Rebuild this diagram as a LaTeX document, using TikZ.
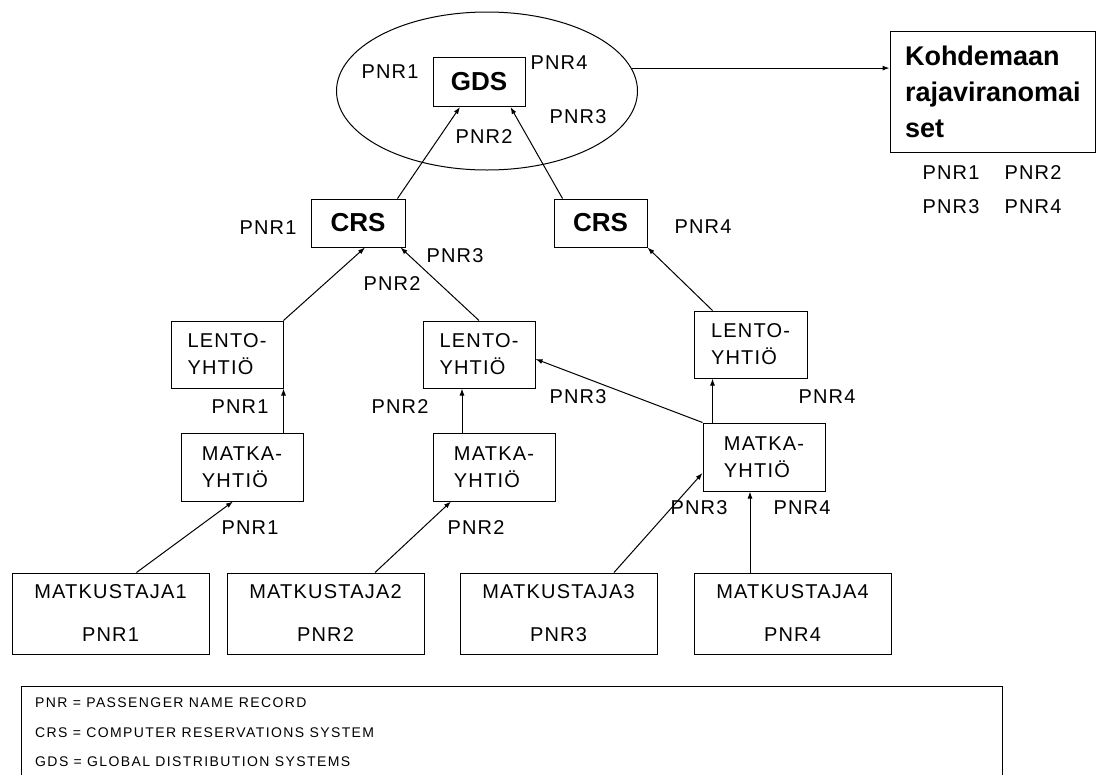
\documentclass[tikz,border=0pt]{standalone}
\usepackage{fontspec}
\setmainfont{Liberation Sans}
\newfontfamily\spacedfont[LetterSpace=6]{Liberation Sans}
\newfontfamily\legendfont[LetterSpace=10]{Liberation Sans}
\usetikzlibrary{shapes.geometric,arrows.meta}

\begin{document}
\begin{tikzpicture}[x=1pt, y=-1pt,
    box/.style={draw, line width=1pt, inner sep=0pt, align=left, font=\spacedfont\fontsize{20}{27}\selectfont},
    boldbox/.style={draw, line width=1pt, inner sep=0pt, font=\bfseries\fontsize{26}{30}\selectfont},
    trav/.style={draw, line width=1pt, minimum width=197pt, minimum height=81pt, align=center, font=\spacedfont\fontsize{20}{43}\selectfont},
    lbl/.style={inner sep=0pt, font=\spacedfont\fontsize{20}{24}\selectfont},
    arrow/.style={-{Latex[length=7pt,width=5pt]}, line width=1pt},
    legtxt/.style={anchor=west, inner sep=0pt, font=\legendfont\fontsize{14}{16}\selectfont}
]
\clip (0,0) rectangle (1098,774);
% GDS
\node[ellipse, draw, line width=1pt, minimum width=301pt, minimum height=158pt] (gdsarea) at (487,91) {};
\node[boldbox, minimum width=92pt, minimum height=49pt] (gds) at (479,82) {GDS};
\node[draw, line width=1pt, minimum width=205pt, minimum height=121pt, text width=175pt, inner xsep=15pt, align=left, font=\bfseries\fontsize{27}{36}\selectfont] (koh) at (992.5,91.5) {Kohdemaan\\rajaviranomai\\set};
% CRS
\node[boldbox, minimum width=94pt, minimum height=48pt] (crs1) at (358,223) {CRS};
\node[boldbox, minimum width=93pt, minimum height=48pt] (crs2) at (600.5,223) {CRS};
% airlines
\node[box, minimum width=112pt, minimum height=67pt] (lento1) at (227,354.5) {LENTO-\\YHTIÖ};
\node[box, minimum width=112pt, minimum height=67pt] (lento2) at (479,354.5) {LENTO-\\YHTIÖ};
\node[box, minimum width=113pt, minimum height=67pt] (lento3) at (750.5,344.5) {LENTO-\\YHTIÖ};
% travel agencies
\node[box, minimum width=122pt, minimum height=68pt] (matka1) at (242,467) {MATKA-\\YHTIÖ};
\node[box, minimum width=122pt, minimum height=68pt] (matka2) at (494,467) {MATKA-\\YHTIÖ};
\node[box, minimum width=122pt, minimum height=68pt] (matka3) at (764,457) {MATKA-\\YHTIÖ};
% passengers
\node[trav] (trav1) at (110.5,613.5) {MATKUSTAJA1\\PNR1};
\node[trav] (trav2) at (325.5,613.5) {MATKUSTAJA2\\PNR2};
\node[trav] (trav3) at (558.5,613.5) {MATKUSTAJA3\\PNR3};
\node[trav] (trav4) at (792.5,613.5) {MATKUSTAJA4\\PNR4};

% PNR labels
\node[lbl] (g1) at (390,72) {PNR1};
\node[lbl] (g4) at (559,63) {PNR4};
\node[lbl] (g3) at (578,117) {PNR3};
\node[lbl] (g2) at (484,137) {PNR2};
\node[lbl] (k1) at (951,173) {PNR1};
\node[lbl] (k2) at (1033,173) {PNR2};
\node[lbl] (k3) at (951,207) {PNR3};
\node[lbl] (k4) at (1033,207) {PNR4};
\node[lbl] (c1) at (268,228) {PNR1};
\node[lbl] (c3) at (455,256) {PNR3};
\node[lbl] (c2) at (392,284) {PNR2};
\node[lbl] (c4) at (703,227) {PNR4};
\node[lbl] (l1) at (240,407) {PNR1};
\node[lbl] (l2) at (400,407) {PNR2};
\node[lbl] (l3) at (578,397) {PNR3};
\node[lbl] (l4) at (827,397) {PNR4};
\node[lbl] (m1) at (250,528) {PNR1};
\node[lbl] (m2) at (476,528) {PNR2};
\node[lbl] (m3) at (699,508) {PNR3};
\node[lbl] (m4) at (802,508) {PNR4};

% legend
\node[draw, line width=1pt, minimum width=981pt, minimum height=120pt, anchor=north west] (legend) at (21,686) {};
\node[legtxt] (leg1) at (35,703) {PNR = PASSENGER NAME RECORD};
\node[legtxt] (leg2) at (35,733) {CRS = COMPUTER RESERVATIONS SYSTEM};
\node[legtxt] (leg3) at (35,762) {GDS = GLOBAL DISTRIBUTION SYSTEMS};

% arrows
\draw[arrow] (gdsarea.9.5) -- (gdsarea.9.5 -| koh.west);
\draw[arrow] ([xshift=-8pt]crs1.north east) -- ([xshift=-19pt]gds.south);
\draw[arrow] ([xshift=9pt]crs2.north west) -- ([xshift=-15pt]gds.south east);
\draw[arrow] (lento1.north east) -- ([xshift=7pt]crs1.south);
\draw[arrow] (lento2.north) -- ([xshift=-5pt]crs1.south east);
\draw[arrow] ([xshift=19pt]lento3.north west) -- (crs2.south east);
\draw[arrow] (matka1.north -| lento1.east) -- (lento1.south east);
\draw[arrow] ([xshift=-32pt]matka2.north) -- ([xshift=-17pt]lento2.south);
\draw[arrow] ([xshift=10pt]matka3.north west) -- ([xshift=19pt]lento3.south west);
\draw[arrow] (matka3.north west) -- ([yshift=-4.5pt]lento2.east);
\draw[arrow] ([xshift=26pt]trav1.north) -- ([xshift=-9pt]matka1.south);
\draw[arrow] ([xshift=49.5pt]trav2.north) -- ([xshift=-43pt]matka2.south);
\draw[arrow] ([xshift=55.5pt]trav3.north) -- ([yshift=-16pt]matka3.west);
\draw[arrow] ([xshift=-42.5pt]trav4.north) -- ([xshift=-14pt]matka3.south);
\end{tikzpicture}
\end{document}
